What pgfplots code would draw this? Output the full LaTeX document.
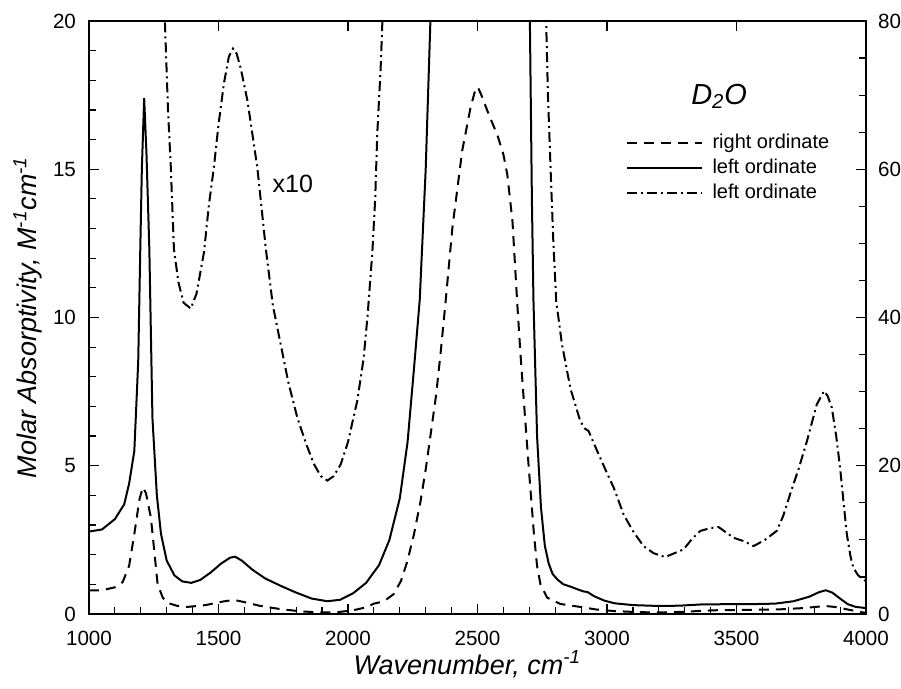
\documentclass[border=0pt]{standalone}
\usepackage{fontspec}
\setmainfont{Liberation Sans}
\usepackage{pgfplots}
\pgfplotsset{compat=1.18}

\begin{document}
\begin{tikzpicture}
\pgfplotsset{
  base/.style={
    scale only axis, width=388.5pt, height=296.5pt,
    xmin=1000, xmax=4000,
    axis line style={line width=1.2pt},
    every tick/.style={black, line width=0.6pt},
    major tick length=5pt, minor tick length=3.5pt,
    tick label style={font=\fontsize{10.3}{12}\selectfont},
    /pgf/number format/assume math mode=true,
    /pgf/number format/1000 sep={},
  },
  dsh/.style={black, line width=1pt, dash pattern=on 5pt off 3.5pt},
  sld/.style={black, line width=1pt},
  dd/.style={black, line width=1pt, dash pattern=on 5pt off 2pt on 1pt off 2pt},
}
\begin{axis}[base, name=main,
  ymin=0, ymax=20, ytick={0,5,...,20}, minor y tick num=4,
  xtick={1000,1500,...,4000}, minor x tick num=4,
  xtick pos=bottom, ytick pos=left,
  xticklabel style={yshift=-5pt},
  yticklabel style={xshift=-3pt},
  xlabel={\itshape Wavenumber, cm\textsuperscript{-1}},
  ylabel={\itshape Molar Absorptivity, M\textsuperscript{-1}cm\textsuperscript{-1}},
  label style={font=\fontsize{13.5}{15}\selectfont},
  xlabel style={at={(axis description cs:0.487,-0.085)}, anchor=center},
  ylabel style={at={(axis description cs:-0.0785,0.5)}, anchor=center},
]
% solid, left ordinate
\addplot[sld] coordinates {
(1000,2.78) (1050,2.85) (1100,3.2) (1136,3.7) (1155,4.4) (1175,5.5) (1190,8.5)
(1198,12.3) (1204,15) (1213,17.4) (1222,15.5) (1233,12.3) (1245,6.6) (1262,4.0)
(1278,2.7) (1300,1.8) (1330,1.3) (1360,1.1) (1395,1.05) (1430,1.15) (1470,1.4)
(1510,1.7) (1545,1.9) (1565,1.93) (1590,1.8) (1630,1.5) (1680,1.2) (1740,0.95)
(1800,0.72) (1860,0.52) (1920,0.43) (1970,0.48) (2020,0.7) (2070,1.05) (2120,1.65)
(2160,2.5) (2200,3.9) (2230,5.8) (2255,8.3) (2277,10.6) (2300,15) (2320,20.5)
(2340,26) (2695,26) (2702,20.2) (2710,14) (2716,10.6) (2730,6) (2745,3.6)
(2760,2.3) (2775,1.7) (2790,1.35) (2810,1.15) (2832,1.0) (2860,0.92) (2890,0.82)
(2910,0.76) (2925,0.74) (2950,0.6) (2990,0.45) (3030,0.36) (3100,0.3) (3200,0.27)
(3280,0.28) (3360,0.32) (3450,0.33) (3550,0.33) (3650,0.35) (3720,0.43) (3780,0.58)
(3820,0.74) (3845,0.8) (3870,0.72) (3900,0.52) (3930,0.33) (3960,0.24) (4000,0.2)
};
% dash-dot, left ordinate (x10)
\addplot[dd] coordinates {
(1280,24) (1293,20) (1305,17) (1316,15.05) (1328,12.3) (1345,11.2) (1365,10.5)
(1393,10.3) (1415,10.8) (1444,12.2) (1463,13.8) (1482,15.05) (1500,16.5) (1521,17.9)
(1540,18.8) (1556,19.07) (1570,18.9) (1586,18.4) (1612,17.3) (1650,15.05) (1683,12.3)
(1710,10.4) (1740,9.1) (1770,7.8) (1805,6.6) (1840,5.7) (1869,5.05) (1895,4.65)
(1920,4.5) (1945,4.65) (1972,5.05) (2000,5.8) (2036,7.2) (2060,8.6) (2075,10.0)
(2094,12.2) (2105,14) (2113,16.2) (2126,18.4) (2135,20.5) (2140,23)
};
\addplot[dd] coordinates {
(2760,23) (2765,20) (2772,17.5) (2782,15.05) (2793,12.5) (2804,10.55) (2826,9.1)
(2859,7.6) (2897,6.5) (2915,6.25) (2929,6.17) (2962,5.5) (3000,4.75) (3026,4.26)
(3064,3.36) (3100,2.8) (3141,2.29) (3180,2.05) (3225,1.92) (3260,2.05) (3296,2.18)
(3330,2.55) (3360,2.8) (3400,2.9) (3431,2.93) (3460,2.75) (3489,2.57) (3530,2.45)
(3566,2.29) (3610,2.5) (3655,2.8) (3680,3.3) (3707,4.04) (3740,4.9) (3772,5.83)
(3810,7.07) (3838,7.52) (3852,7.35) (3868,6.96) (3885,6.0) (3900,4.93) (3913,3.8)
(3926,2.69) (3940,1.95) (3951,1.56) (3970,1.3) (3990,1.17) (4000,1.1)
};
\node[font=\fontsize{12.5}{14}\selectfont] at (axis cs:1787,14.5) {x10};
\end{axis}

\begin{axis}[base,
  ymin=0, ymax=80, ytick={0,20,...,80}, minor y tick num=3,
  xtick={1000,1500,...,4000}, minor x tick num=0, xticklabels={,,,,,,,},
  xtick pos=top, ytick pos=right, yticklabel pos=right,
  yticklabel style={xshift=2.5pt},
  legend style={at={(0.690,0.816)}, anchor=north west, draw=none, fill=none,
    font=\fontsize{10}{12}\selectfont, inner sep=0pt,
    nodes={text height=7.5pt, text depth=2pt, inner sep=1.5pt},
    /tikz/every odd column/.append style={column sep=3.5pt}},
  legend cell align=left,
  legend image code/.code={\draw[#1] (0pt,0pt) -- (37.5pt,0pt);},
]
% dashed, right ordinate
\addplot[dsh] coordinates {
(1000,3.2) (1050,3.2) (1100,3.6) (1130,4.3) (1155,6.5) (1175,10.8) (1195,15.5)
(1208,17.1) (1220,16.3) (1239,13.0) (1252,8.5) (1265,4.0) (1285,2.2) (1303,1.5)
(1340,1.1) (1380,0.95) (1450,1.2) (1520,1.7) (1560,1.9) (1600,1.6) (1660,1.1)
(1740,0.65) (1820,0.35) (1900,0.2) (1960,0.25) (2020,0.5) (2070,0.9) (2100,1.4)
(2126,1.6) (2150,2.0) (2177,2.7) (2205,4.5) (2229,7.1) (2255,10.8) (2280,15.2)
(2300,19.5) (2319,24.2) (2340,29.5) (2357,35) (2377,42.2) (2403,52.1) (2441,62.5)
(2473,68.3) (2490,70.5) (2501,71.1) (2515,70) (2538,67.9) (2560,66) (2576,64.7)
(2600,62) (2615,59.3) (2635,53) (2653,42.2) (2666,35) (2679,28.7) (2698,19.7)
(2718,10.75) (2730,6.5) (2743,4.0) (2769,2.2) (2820,1.35) (2897,0.95) (2960,0.6)
(3025,0.4) (3120,0.25) (3218,0.2) (3300,0.3) (3410,0.5) (3550,0.55) (3669,0.63)
(3760,0.8) (3842,1.08) (3880,0.95) (3930,0.6) (3990,0.2) (4000,0.15)
};
\addlegendentry{right ordinate}
\addlegendimage{sld}
\addlegendentry{left ordinate}
\addlegendimage{dd}
\addlegendentry{left ordinate}
\node[font=\fontsize{14.5}{16}\selectfont\itshape] at (rel axis cs:0.811,0.873) {D\textsubscript{2}O};
\end{axis}
\pgfresetboundingbox
\path ([shift={(-44.5pt,-37.5pt)}]main.south west) rectangle ([shift={(17.5pt,10.5pt)}]main.north east);
\end{tikzpicture}
\end{document}
